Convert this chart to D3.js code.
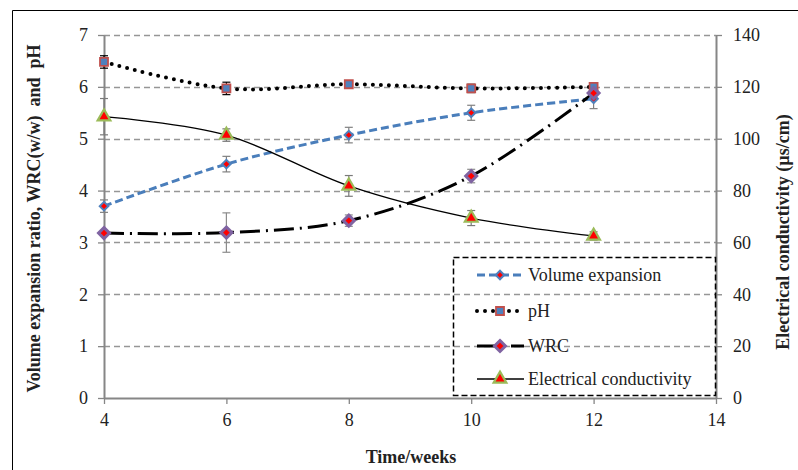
<!DOCTYPE html>
<html>
<head>
<meta charset="utf-8">
<title>Volume expansion, pH, WRC and EC</title>
<script src="https://cdn.jsdelivr.net/npm/d3@7"></script>
<style>
	body { margin: 0; background: #fff; }
	text { font-family: "Liberation Serif", "Times New Roman", serif; fill: #222; }
</style>
</head>
<body>
<div id="chart"></div>
<script>
	// data
	var weeks = [4, 6, 8, 10, 12];
	var volume = [3.70, 4.51, 5.07, 5.50, 5.77];
	var volumeErr = [0.12, 0.15, 0.15, 0.145, 0.19];
	var ph = [6.48, 5.97, 6.05, 5.97, 6.00];
	var phErr = [0.12, 0.12, 0.07, 0.08, 0.05];
	var wrc = [3.18, 3.19, 3.42, 4.28, 5.88];
	var wrcErr = [0.05, 0.38, 0.11, 0.13, 0.1];
	var ec = [108.5, 101.4, 81.8, 69.4, 62.5];
	var ecErr = [7, 2.4, 4, 2.9, 1.6];
	var xTicks = [4, 6, 8, 10, 12, 14];
	var leftTicks = [0, 1, 2, 3, 4, 5, 6, 7];
	var rightTicks = [0, 20, 40, 60, 80, 100, 120, 140];
	var legendNames = ["Volume expansion", "pH", "WRC", "Electrical conductivity"];

	var w = 798;
	var h = 470;
	var plotLeft = 104, plotRight = 716, plotTop = 35, plotBottom = 398;

	var svg = d3.select("#chart")
				.append("svg")
				.attr("width", w)
				.attr("height", h);

	svg.append("rect").attr("width", w).attr("height", h).style("fill", "#fff");

	// outer frame (only top and left show)
	svg.append("path")
		.attr("d", "M12.5," + h + "V10.5H" + w)
		.style("fill", "none")
		.style("stroke", "#000")
		.style("stroke-width", 1);

	var x = d3.scaleLinear().domain([4, 14]).range([plotLeft, plotRight]);
	var y = d3.scaleLinear().domain([0, 7]).range([plotBottom, plotTop]);
	var y2 = d3.scaleLinear().domain([0, 140]).range([plotBottom, plotTop]);

	// grid lines
	svg.append("g")
		.selectAll("line")
		.data(leftTicks.slice(1))
		.enter()
		.append("line")
		.attr("x1", plotLeft)
		.attr("x2", plotRight)
		.attr("y1", function(d) { return Math.round(y(d)) + 0.5; })
		.attr("y2", function(d) { return Math.round(y(d)) + 0.5; })
		.style("stroke", "#969696")
		.style("stroke-width", 1.3)
		.style("stroke-dasharray", "6,4");

	// axes
	var fontSize = "18px";
	var axisColor = "#868686";
	var gx = svg.append("g")
		.attr("transform", "translate(0," + plotBottom + ")")
		.call(d3.axisBottom(x).tickValues(xTicks).tickFormat(d3.format("d"))
			.tickSize(6).tickPadding(9).tickSizeOuter(0));
	var gl = svg.append("g")
		.attr("transform", "translate(" + plotLeft + ",0)")
		.call(d3.axisLeft(y).tickValues(leftTicks).tickFormat(d3.format("d"))
			.tickSize(6).tickPadding(10).tickSizeOuter(0));
	var gr = svg.append("g")
		.attr("transform", "translate(" + plotRight + ",0)")
		.call(d3.axisRight(y2).tickValues(rightTicks).tickFormat(d3.format("d"))
			.tickSize(6).tickPadding(11).tickSizeOuter(0));
	[gx, gl, gr].forEach(function(g) {
		g.attr("font-family", null);
		g.select(".domain").style("stroke", axisColor).style("stroke-width", 2);
		g.selectAll(".tick line").style("stroke", axisColor).style("stroke-width", 1.3);
		g.selectAll(".tick text")
			.style("font-family", "'Liberation Serif', serif")
			.style("font-size", fontSize)
			.style("fill", "#222");
	});

	// axis titles
	svg.append("text")
		.attr("transform", "translate(40," + ((plotTop + plotBottom) / 2 + 2) + ") rotate(-90)")
		.attr("text-anchor", "middle")
		.style("font-size", fontSize)
		.style("font-weight", "bold")
		.style("white-space", "pre")
		.text("Volume expansion ratio, WRC(w/w)  and  pH");
	svg.append("text")
		.attr("transform", "translate(789,232) rotate(-90)")
		.attr("text-anchor", "middle")
		.style("font-size", fontSize)
		.style("font-weight", "bold")
		.text("Electrical conductivity (µs/cm)");
	svg.append("text")
		.attr("x", 411)
		.attr("y", 463)
		.attr("text-anchor", "middle")
		.style("font-size", fontSize)
		.style("font-weight", "bold")
		.text("Time/weeks");

	// a diamond that is as wide as it is tall
	var symbolRhombus = {
		draw: function(context, size) {
			var r = Math.sqrt(size / 2);
			context.moveTo(0, -r);
			context.lineTo(r, 0);
			context.lineTo(0, r);
			context.lineTo(-r, 0);
			context.closePath();
		}
	};

	// series styles
	var series = [
		{ vals: volume, errs: volumeErr, scale: y, line: { stroke: "#4A7EBB", width: 3, dash: "8,4", cap: "butt" },
		  err: "#808080", sym: symbolRhombus, size: 36, fill: "#FF0000", edge: "#4F81BD", ew: 2 },
		{ vals: ph, errs: phErr, scale: y, line: { stroke: "#000", width: 4, dash: "0,8", cap: "round" },
		  err: "#000", sym: d3.symbolSquare, size: 64, fill: "#4F81BD", edge: "#C0504D", ew: 1.8 },
		{ vals: wrc, errs: wrcErr, scale: y, line: { stroke: "#000", width: 3, dash: "20,6,2,6", cap: "butt" },
		  err: "#8c8c8c", sym: symbolRhombus, size: 60, fill: "#FF0000", edge: "#8064A2", ew: 3 },
		{ vals: ec, errs: ecErr, scale: y2, line: { stroke: "#000", width: 1.3, dash: null, cap: "butt" },
		  err: "#7a7a7a", sym: d3.symbolTriangle, size: 70, fill: "#FF0000", edge: "#9BBB59", ew: 2.2 }
	];

	// smoothed lines (like Excel smoothing)
	series.forEach(function(s) {
		var line = d3.line()
			.x(function(d, i) { return x(weeks[i]); })
			.y(function(d) { return s.scale(d); })
			.curve(d3.curveCatmullRom.alpha(0));
		svg.append("path")
			.datum(s.vals)
			.attr("d", line)
			.style("fill", "none")
			.style("stroke", s.line.stroke)
			.style("stroke-width", s.line.width)
			.style("stroke-linecap", s.line.cap)
			.style("stroke-dasharray", s.line.dash);
	});

	// error bars
	series.forEach(function(s) {
		var g = svg.append("g").style("stroke", s.err).style("stroke-width", 1.2);
		s.vals.forEach(function(v, i) {
			var cx = x(weeks[i]);
			var y1 = s.scale(v + s.errs[i]);
			var y0 = s.scale(v - s.errs[i]);
			g.append("line").attr("x1", cx).attr("x2", cx).attr("y1", y1).attr("y2", y0);
			g.append("line").attr("x1", cx - 4).attr("x2", cx + 4).attr("y1", y1).attr("y2", y1);
			g.append("line").attr("x1", cx - 4).attr("x2", cx + 4).attr("y1", y0).attr("y2", y0);
		});
	});

	// markers
	series.forEach(function(s) {
		svg.append("g")
			.selectAll("path")
			.data(s.vals)
			.enter()
			.append("path")
			.attr("transform", function(d, i) {
				return "translate(" + x(weeks[i]) + "," + s.scale(d) + ")";
			})
			.attr("d", d3.symbol().type(s.sym).size(s.size))
			.style("fill", s.fill)
			.style("stroke", s.edge)
			.style("stroke-width", s.ew);
	});

	// legend
	var lg = svg.append("g");
	lg.append("rect")
		.attr("x", 453.5)
		.attr("y", 257.5)
		.attr("width", 262)
		.attr("height", 138)
		.style("fill", "none")
		.style("stroke", "#000")
		.style("stroke-width", 1.5)
		.style("stroke-dasharray", "6,3");
	var rowY = [275, 311, 346, 379];
	series.forEach(function(s, i) {
		var ry = rowY[i];
		lg.append("line")
			.attr("x1", 477)
			.attr("x2", 524)
			.attr("y1", ry)
			.attr("y2", ry)
			.style("stroke", s.line.stroke)
			.style("stroke-width", s.line.width)
			.style("stroke-linecap", s.line.cap)
			.style("stroke-dasharray", s.line.dash);
		lg.append("path")
			.attr("transform", "translate(500," + ry + ")")
			.attr("d", d3.symbol().type(s.sym).size(s.size))
			.style("fill", s.fill)
			.style("stroke", s.edge)
			.style("stroke-width", s.ew);
		lg.append("text")
			.attr("x", 528)
			.attr("y", ry)
			.attr("dy", "0.35em")
			.style("font-size", fontSize)
			.text(legendNames[i]);
	});
</script>
</body>
</html>
